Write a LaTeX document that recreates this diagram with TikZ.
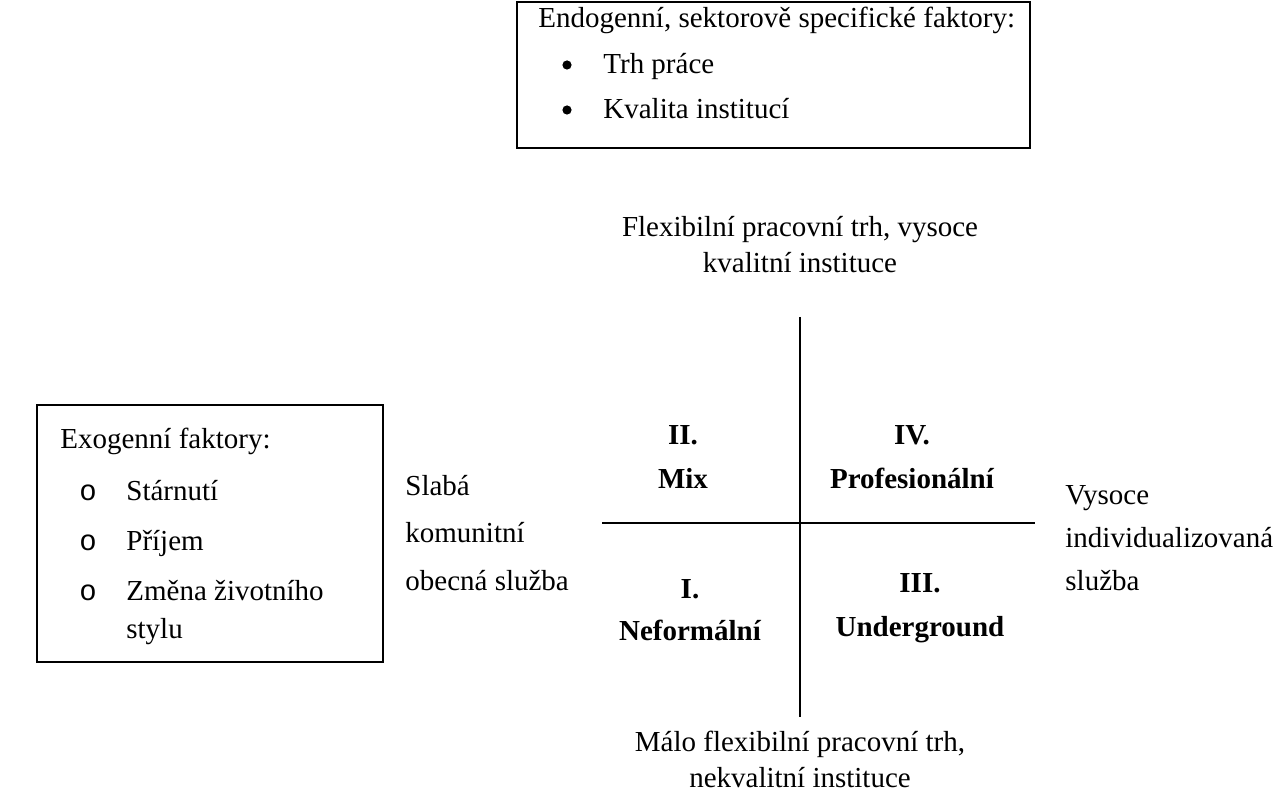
\documentclass[tikz,border=0pt]{standalone}
\usepackage{fontspec}
\setmainfont{Liberation Serif}
\newfontfamily\bulletfont{Liberation Mono}

\begin{document}
\begin{tikzpicture}[x=0.5pt,y=-0.5pt,
	txt/.style={inner sep=0pt,font=\fontsize{14.5}{18}\selectfont},
	lbl/.style={txt,anchor=base west},
	mid/.style={txt,anchor=base},
	dot/.style={circle,fill,inner sep=0pt,minimum size=4.6pt},
	quad/.style={txt,anchor=base,font=\fontsize{14.5}{18}\selectfont\bfseries},
	frame/.style={draw,line width=0.75pt},
	axis/.style={draw,line width=0.9pt}]
	\useasboundingbox (0,0) rectangle (1287,791);
	% endogenous factors
	\draw[frame] (517,2) rectangle (1030,148);
	\node[lbl] (endo) at (538,28) {Endogenní, sektorově specifické faktory:};
	\node[dot] (b1) at (567,65) {};
	\node[lbl] (trh) at (603,74) {Trh práce};
	\node[dot] (b2) at (567,110) {};
	\node[lbl] (inst) at (603,119) {Kvalita institucí};
	% exogenous factors
	\draw[frame] (37,405) rectangle (383,662);
	\node[lbl] (exo) at (60,449) {Exogenní faktory:};
	\node[mid] (o1) at (88,501) {\bulletfont o};
	\node[lbl] (star) at (126,501) {Stárnutí};
	\node[mid] (o2) at (88,551) {\bulletfont o};
	\node[lbl] (prij) at (126,551) {Příjem};
	\node[mid] (o3) at (88,601) {\bulletfont o};
	\node[lbl] (zmena) at (126,601) {Změna životního};
	\node[lbl] (stylu) at (126,639) {stylu};
	% axes
	\coordinate (n) at (800,317);
	\coordinate (s) at (800,717);
	\coordinate (w) at (602,523);
	\coordinate (e) at (1035,523);
	\draw[axis] (n) -- (s);
	\draw[axis] (w) -- (e);
	\node[mid] (flex1) at (800,237) {Flexibilní pracovní trh, vysoce};
	\node[mid] (flex2) at (800,273) {kvalitní instituce};
	\node[mid] (malo1) at (800,751) {Málo flexibilní pracovní trh,};
	\node[mid] (malo2) at (800,787) {nekvalitní instituce};
	\node[lbl] (slaba1) at (405,495) {Slabá};
	\node[lbl] (slaba2) at (405,543) {komunitní};
	\node[lbl] (slaba3) at (405,590) {obecná služba};
	\node[lbl] (vys1) at (1065,505) {Vysoce};
	\node[lbl] (vys2) at (1065,547) {individualizovaná};
	\node[lbl] (vys3) at (1065,590) {služba};
	% quadrants
	\node[quad] (q2) at (683,445) {II.};
	\node[quad] (mix) at (683,488) {Mix};
	\node[quad] (q4) at (912,445) {IV.};
	\node[quad] (prof) at (912,488) {Profesionální};
	\node[quad] (q1) at (690,598) {I.};
	\node[quad] (nef) at (690,640) {Neformální};
	\node[quad] (q3) at (920,593) {III.};
	\node[quad] (under) at (920,637) {Underground};
\end{tikzpicture}
\end{document}
